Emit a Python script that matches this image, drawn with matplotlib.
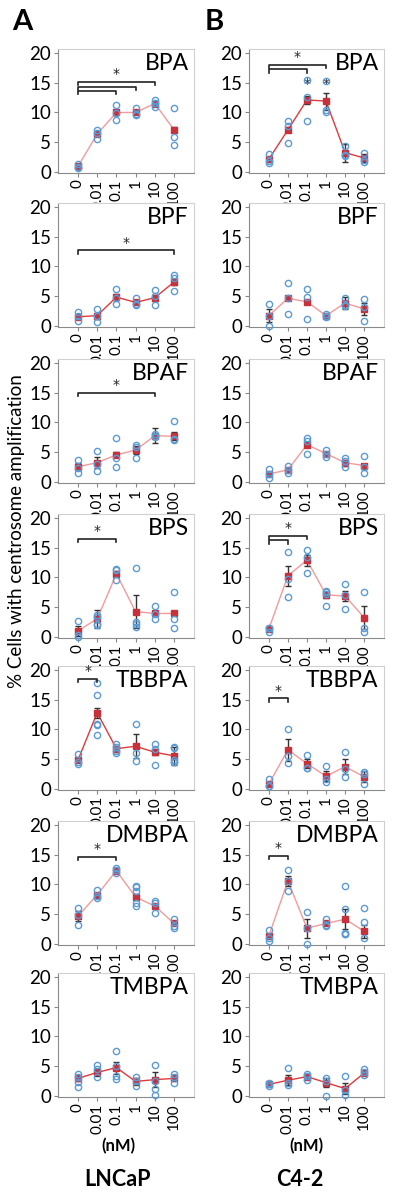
import matplotlib
matplotlib.use('Agg')
import matplotlib.pyplot as plt

plt.rcParams['font.family'] = ['Lato', 'DejaVu Sans']

doses = ['0', '0.01', '0.1', '1', '10', '100']
compounds = ['BPA', 'BPF', 'BPAF', 'BPS', 'TBBPA', 'DMBPA', 'TMBPA']

# ---- LNCaP (column A) ----
A_BPA_mean = [1.0, 6.4, 10.0, 10.0, 11.5, 7.1]
A_BPA_sem = [0.2, 0.4, 0.4, 0.3, 0.4, 0.4]
A_BPA_pts = [[1.4, 0.8, 0.9], [7.1, 5.6, 6.5], [11.3, 8.8, 9.9], [10.7, 9.8, 9.6], [12.1, 10.9, 11.6], [10.8, 5.9, 4.5]]
A_BPA_sig = [(0, 2, 13.6), (0, 3, 14.3), (0, 4, 15.1)]

A_BPF_mean = [1.6, 1.8, 4.9, 4.0, 4.8, 7.4]
A_BPF_sem = [0.4, 0.5, 0.5, 0.3, 0.5, 0.5]
A_BPF_pts = [[2.4, 0.9, 1.7], [2.9, 0.7, 1.8], [6.3, 3.8, 4.7], [4.7, 3.6, 3.8], [6.0, 3.5, 5.0], [8.5, 8.0, 5.9]]
A_BPF_sig = [(0, 5, 12.7)]

A_BPAF_mean = [2.6, 3.3, 4.6, 5.4, 7.8, 7.7]
A_BPAF_sem = [0.6, 0.9, 0.4, 0.7, 1.3, 0.7]
A_BPAF_pts = [[3.8, 1.6, 2.4], [5.2, 1.9, 3.0], [7.4, 4.0, 2.6], [6.2, 5.9, 4.1], [8.0, 7.6, 7.7], [10.2, 7.3, 7.1]]
A_BPAF_sig = [(0, 4, 15.0)]

A_BPS_mean = [1.1, 3.1, 10.6, 4.3, 4.0, 4.0]
A_BPS_sem = [0.8, 1.5, 0.5, 2.7, 0.4, 0.3]
A_BPS_pts = [[2.8, 0.4, 0.0], [3.8, 3.4, 2.2, 2.0], [11.5, 11.2, 9.6], [11.6, 2.6, 2.2, 1.8], [5.2, 3.9, 3.0], [7.5, 3.0, 1.6]]
A_BPS_sig = [(0, 2, 16.5)]

A_TBBPA_mean = [4.9, 12.8, 6.8, 7.2, 6.2, 5.6]
A_TBBPA_sem = [0.3, 0.8, 0.5, 2.0, 0.5, 1.5]
A_TBBPA_pts = [[5.9, 4.6, 4.3], [17.8, 15.8, 10.9, 10.8, 9.1], [7.6, 7.1, 6.4, 6.0], [10.9, 6.1, 4.7], [7.6, 6.8, 4.1], [7.1, 6.9, 4.9, 4.6, 4.5]]
A_TBBPA_sig = [(0, 1, 18.5)]

A_DMBPA_mean = [4.7, 8.3, 12.3, 7.9, 6.4, 3.5]
A_DMBPA_sem = [0.8, 0.3, 0.3, 0.5, 0.4, 0.3]
A_DMBPA_pts = [[6.1, 3.3, 4.9], [9.1, 8.0, 7.8], [12.8, 12.5, 11.9], [9.8, 9.5, 8.9, 6.9, 6.4], [7.3, 6.9, 5.2], [4.3, 3.1, 2.7]]
A_DMBPA_sig = [(0, 2, 14.6)]

A_TMBPA_mean = [3.0, 4.0, 4.8, 2.5, 2.8, 3.0]
A_TMBPA_sem = [0.5, 0.6, 1.0, 0.6, 1.2, 0.5]
A_TMBPA_pts = [[3.8, 3.3, 2.4, 1.6], [5.2, 4.5, 3.2], [7.6, 5.0, 3.4, 2.9], [3.3, 2.5, 1.7], [5.2, 2.6, 1.3, 0.2], [3.8, 3.3, 2.2]]
A_TMBPA_sig = []

# ---- C4-2 (column B) ----
B_BPA_mean = [2.2, 7.1, 12.1, 11.9, 3.3, 2.4]
B_BPA_sem = [0.4, 0.4, 0.6, 1.4, 1.5, 0.6]
B_BPA_pts = [[3.1, 1.6, 1.9], [8.6, 7.8, 4.9], [15.4, 12.6, 8.6], [15.3, 10.4, 10.1], [4.4, 2.7, 2.9], [3.3, 1.7, 2.1]]
B_BPA_sig = [(0, 2, 17.2), (0, 3, 18.0)]
B_BPA_dose_star = [2, 3]

B_BPF_mean = [1.8, 4.7, 4.1, 1.8, 3.9, 2.9]
B_BPF_sem = [1.1, 0.3, 0.3, 0.2, 1.0, 1.0]
B_BPF_pts = [[3.8, 0.0, 1.7], [7.3, 2.1, 4.8], [6.2, 4.9, 1.3], [2.1, 1.8, 1.6], [4.8, 3.4, 3.6], [4.6, 0.9, 3.2]]
B_BPF_sig = []

B_BPAF_mean = [1.4, 2.1, 6.3, 4.8, 3.3, 2.8]
B_BPAF_sem = [0.3, 0.3, 0.4, 0.3, 0.5, 0.3]
B_BPAF_pts = [[2.2, 0.7, 1.4], [2.7, 1.6, 2.0], [7.4, 6.9, 4.7], [5.4, 4.3, 4.8], [4.0, 2.5, 3.6], [4.4, 2.5, 1.5]]
B_BPAF_sig = []

B_BPS_mean = [1.4, 10.3, 12.9, 7.1, 6.9, 3.3]
B_BPS_sem = [0.3, 1.7, 0.9, 0.5, 0.9, 1.9]
B_BPS_pts = [[1.6, 1.5, 0.9], [14.2, 9.7, 6.8], [14.6, 13.5, 10.7], [7.8, 7.5, 7.2, 5.2], [8.9, 7.0, 4.7], [7.5, 1.6, 0.9]]
B_BPS_sig = [(0, 1, 16.2), (0, 2, 17.0)]

B_TBBPA_mean = [0.9, 6.6, 4.3, 2.2, 3.8, 2.1]
B_TBBPA_sem = [0.4, 1.8, 0.8, 0.8, 1.3, 0.9]
B_TBBPA_pts = [[1.7, 0.6, 0.5], [10.1, 5.5, 4.4], [5.8, 3.6, 3.5], [3.9, 1.7, 1.2], [6.3, 3.4, 2.0], [2.9, 2.5, 0.9]]
B_TBBPA_sig = [(0, 1, 15.2)]

B_DMBPA_mean = [1.4, 10.6, 2.7, 3.5, 4.2, 2.2]
B_DMBPA_sem = [0.4, 0.9, 1.6, 0.3, 1.7, 1.1]
B_DMBPA_pts = [[2.4, 1.1, 0.5], [12.4, 10.6, 8.9], [5.4, 0.0, 2.7], [4.3, 3.0, 3.2], [9.7, 5.9, 1.9, 1.8, 1.8], [6.0, 3.8, 1.0]]
B_DMBPA_sig = [(0, 1, 14.8)]

B_TMBPA_mean = [2.0, 2.7, 3.3, 2.3, 1.3, 3.9]
B_TMBPA_sem = [0.3, 0.8, 0.3, 0.8, 0.9, 0.3]
B_TMBPA_pts = [[2.3, 2.0, 1.8], [4.8, 2.3, 1.9], [3.8, 3.4, 2.8], [3.1, 2.5, 0.0], [3.4, 1.0, 0.2], [4.6, 4.0, 3.5]]
B_TMBPA_sig = []

col_A = [
    (A_BPA_mean, A_BPA_sem, A_BPA_pts, A_BPA_sig),
    (A_BPF_mean, A_BPF_sem, A_BPF_pts, A_BPF_sig),
    (A_BPAF_mean, A_BPAF_sem, A_BPAF_pts, A_BPAF_sig),
    (A_BPS_mean, A_BPS_sem, A_BPS_pts, A_BPS_sig),
    (A_TBBPA_mean, A_TBBPA_sem, A_TBBPA_pts, A_TBBPA_sig),
    (A_DMBPA_mean, A_DMBPA_sem, A_DMBPA_pts, A_DMBPA_sig),
    (A_TMBPA_mean, A_TMBPA_sem, A_TMBPA_pts, A_TMBPA_sig),
]
col_B = [
    (B_BPA_mean, B_BPA_sem, B_BPA_pts, B_BPA_sig),
    (B_BPF_mean, B_BPF_sem, B_BPF_pts, B_BPF_sig),
    (B_BPAF_mean, B_BPAF_sem, B_BPAF_pts, B_BPAF_sig),
    (B_BPS_mean, B_BPS_sem, B_BPS_pts, B_BPS_sig),
    (B_TBBPA_mean, B_TBBPA_sem, B_TBBPA_pts, B_TBBPA_sig),
    (B_DMBPA_mean, B_DMBPA_sem, B_DMBPA_pts, B_DMBPA_sig),
    (B_TMBPA_mean, B_TMBPA_sem, B_TMBPA_pts, B_TMBPA_sig),
]

# line colours (strong red vs pale red), per row
line_A = ['#F49A9A', '#E0393B', '#F49A9A', '#F49A9A', '#E0393B', '#F49A9A', '#E0393B']
line_B = ['#E0393B', '#F49A9A', '#F49A9A', '#F49A9A', '#F49A9A', '#F49A9A', '#E0393B']

W, H = 400, 1195
fig = plt.figure(figsize=(W / 100, H / 100), dpi=100)

row_tops = [49, 203, 359, 514, 666, 821, 973]
ax_h = 124
col_x = [(58, 194), (249, 384)]

blue = '#5B9BD5'
red = '#C8313A'
star_font = ['DejaVu Sans']


def draw_panel(ax, name, mean, sem, pts, sig, lc):
    x = list(range(len(doses)))
    ax.plot(x, mean, color=lc, lw=1.0, zorder=2)
    ax.errorbar(x, mean, yerr=sem, fmt='none', ecolor='#333333', elinewidth=1.0,
                capsize=2, capthick=1.0, zorder=3)
    ax.plot(x, mean, 's', color=red, ms=5, mec=red, zorder=4, clip_on=False)
    for i, p in enumerate(pts):
        ax.plot([i] * len(p), p, 'o', mfc='none', mec=blue, ms=4.5, mew=1.0,
                zorder=5, clip_on=False)
    for (a, b, y) in sig:
        ax.plot([a, a, b, b], [y - 0.55, y, y, y - 0.55], color='#222222', lw=1.2,
                zorder=6, clip_on=False)
    if sig:
        a, b, y = sig[-1]
        ax.text((a + b) / 2, y + 0.1, '*', ha='center', va='bottom', fontsize=10,
                color='#222222', family=star_font)
    ax.set_xlim(-1.04, 6.04)
    ax.set_ylim(-0.1, 20.6)
    ax.set_yticks([0, 5, 10, 15, 20])
    ax.set_xticks(x)
    ax.set_xticklabels(doses, rotation=90, fontsize=11)
    ax.tick_params(axis='y', labelsize=13.5, length=3, color='#888888', pad=2)
    ax.tick_params(axis='x', length=3, color='#888888', pad=1.5)
    for s in ['top', 'right']:
        ax.spines[s].set_color('#d0d0d0')
    for s in ['left', 'bottom']:
        ax.spines[s].set_color('#8a8a8a')
    ax.text(0.96, 0.965, name, transform=ax.transAxes, ha='right', va='top', fontsize=16.5)


for c, (col, lines) in enumerate([(col_A, line_A), (col_B, line_B)]):
    x0, x1 = col_x[c]
    for r, (mean, sem, pts, sig) in enumerate(col):
        top = row_tops[r]
        ax = fig.add_axes([x0 / W, 1 - (top + ax_h) / H, (x1 - x0) / W, ax_h / H])
        draw_panel(ax, compounds[r], mean, sem, pts, sig, lines[r])
        if c == 1 and r == 0:
            for d in B_BPA_dose_star:
                ax.text(d, 13.6, '*', ha='center', va='bottom', fontsize=10,
                        color='#222222', family=star_font)

fig.text(12 / W, 1 - 22 / H, 'A', fontsize=21, fontweight='bold', va='center', ha='left')
fig.text(205 / W, 1 - 22 / H, 'B', fontsize=21, fontweight='bold', va='center', ha='left')
fig.text(17 / W, 1 - 531 / H, '% Cells with centrosome amplification', rotation=90,
         ha='center', va='center', fontsize=13.5)
fig.text(118 / W, 1 - 1146 / H, '(nM)', ha='center', va='center', fontsize=12, fontweight='bold')
fig.text(306 / W, 1 - 1146 / H, '(nM)', ha='center', va='center', fontsize=12, fontweight='bold')
fig.text(118 / W, 1 - 1180 / H, 'LNCaP', ha='center', va='center', fontsize=15.5, fontweight='bold')
fig.text(300 / W, 1 - 1180 / H, 'C4-2', ha='center', va='center', fontsize=15.5, fontweight='bold')

fig.savefig('out.png', dpi=100)
